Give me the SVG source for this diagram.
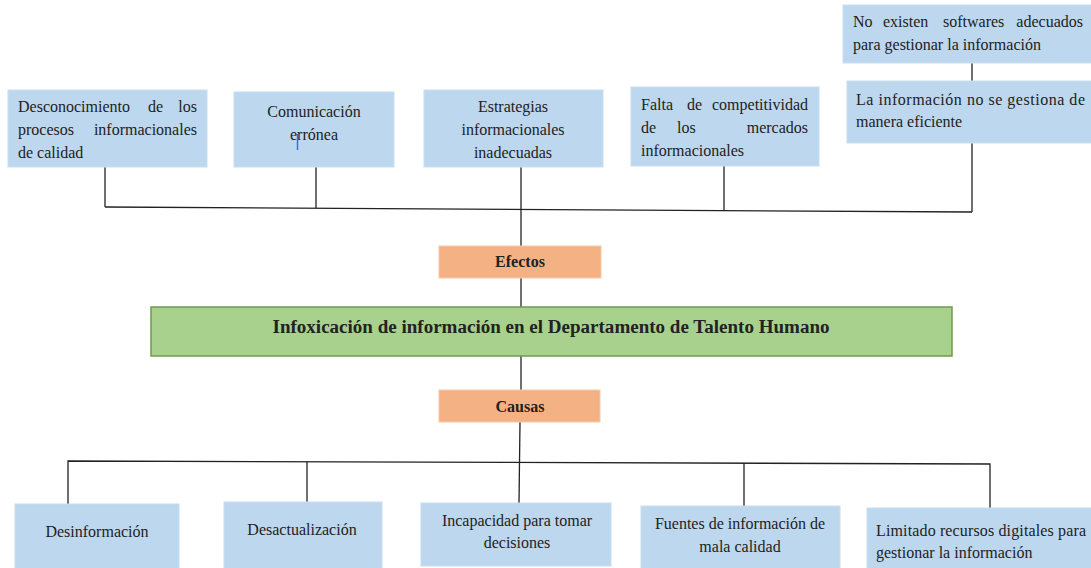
<svg xmlns="http://www.w3.org/2000/svg" width="1091" height="568" viewBox="0 0 1091 568">
<style>
.b{fill:#bdd7ee;stroke:#c9def0;stroke-width:1}
.o{fill:#f4b183;stroke:#f7c8a8;stroke-width:1}
.g{fill:#a9d18e;stroke:#6f9a4f;stroke-width:1.5}
text{font-family:"Liberation Serif","Times New Roman",serif;font-size:16px;fill:#222}
.c{text-anchor:middle}
.e{text-anchor:end}
.t{font-weight:bold}
.ln{fill:none;stroke:#222;stroke-width:1.3}
</style>
<rect width="1091" height="568" fill="#fff"/>
<g id="connectors">
<polyline class="ln" points="105,207 972,212"/>
<line class="ln" x1="105" y1="167" x2="105" y2="207"/>
<line class="ln" x1="316" y1="167" x2="316" y2="208"/>
<line class="ln" x1="521" y1="167" x2="521" y2="246"/>
<line class="ln" x1="724" y1="166" x2="724" y2="210"/>
<line class="ln" x1="972" y1="143" x2="972" y2="212"/>
<line class="ln" x1="972" y1="63" x2="972" y2="81"/>
<line class="ln" x1="521" y1="278" x2="521" y2="307"/>
<line class="ln" x1="521" y1="356" x2="521" y2="390"/>
<line class="ln" x1="520" y1="422" x2="519" y2="503"/>
<polyline class="ln" points="68,504 68,461 990,464 990,508"/>
<line class="ln" x1="307" y1="461" x2="307" y2="502"/>
<line class="ln" x1="744" y1="463" x2="744" y2="506"/>
</g>
<g id="e1">
<rect class="b" x="8" y="90" width="199" height="77"/>
<text x="18" y="112">Desconocimiento</text><text x="148" y="112">de</text><text class="e" x="197" y="112">los</text>
<text x="18" y="135">procesos</text><text class="e" x="197" y="135">informacionales</text>
<text x="18" y="158">de calidad</text>
</g>
<g id="e2">
<rect class="b" x="234" y="92" width="160" height="75"/>
<text class="c" x="314" y="117">Comunicación</text>
<text class="c" x="314" y="140">errónea</text>
<line x1="297.5" y1="134" x2="297.5" y2="150" stroke="#3a6fd8" stroke-width="1.5"/>
</g>
<g id="e3">
<rect class="b" x="424" y="90" width="179" height="77"/>
<text class="c" x="513" y="112">Estrategias</text>
<text class="c" x="513" y="135">informacionales</text>
<text class="c" x="513" y="158">inadecuadas</text>
</g>
<g id="e4">
<rect class="b" x="631" y="87" width="188" height="79"/>
<text x="641" y="110">Falta</text><text x="687" y="110">de</text><text class="e" x="808" y="110">competitividad</text>
<text x="641" y="133">de</text><text x="677" y="133">los</text><text class="e" x="808" y="133">mercados</text>
<text x="641" y="156">informacionales</text>
</g>
<g id="e5">
<rect class="b" x="843" y="5" width="250" height="58"/>
<text x="853" y="27">No</text><text x="883" y="27">existen</text><text x="943" y="27">softwares</text><text class="e" x="1083" y="27">adecuados</text>
<text x="853" y="50">para gestionar la información</text>
</g>
<g id="e6">
<rect class="b" x="847" y="81" width="246" height="62"/>
<text x="856" y="105" textLength="229" lengthAdjust="spacing">La información no se gestiona de</text>
<text x="856" y="127">manera eficiente</text>
</g>
<g id="efectos">
<rect class="o" x="439" y="246" width="162" height="32"/>
<text class="c t" x="520" y="267">Efectos</text>
</g>
<g id="problema">
<rect class="g" x="151" y="307" width="801" height="49"/>
<text class="c t" x="551" y="333" style="font-size:18px" textLength="557" lengthAdjust="spacingAndGlyphs">Infoxicación de información en el Departamento de Talento Humano</text>
</g>
<g id="causas">
<rect class="o" x="439" y="390" width="161" height="32"/>
<text class="c t" x="520" y="412">Causas</text>
</g>
<g id="c1">
<rect class="b" x="15" y="504" width="164" height="66"/>
<text class="c" x="97" y="537">Desinformación</text>
</g>
<g id="c2">
<rect class="b" x="224" y="502" width="158" height="68"/>
<text class="c" x="302" y="535">Desactualización</text>
</g>
<g id="c3">
<rect class="b" x="421" y="503" width="190" height="63"/>
<text class="c" x="517" y="526">Incapacidad para tomar</text>
<text class="c" x="517" y="548">decisiones</text>
</g>
<g id="c4">
<rect class="b" x="641" y="506" width="199" height="64"/>
<text class="c" x="740" y="529">Fuentes de información de</text>
<text class="c" x="740" y="552">mala calidad</text>
</g>
<g id="c5">
<rect class="b" x="867" y="508" width="226" height="62"/>
<text x="876" y="536" textLength="210" lengthAdjust="spacing">Limitado recursos digitales para</text>
<text x="876" y="558">gestionar la información</text>
</g>
</svg>
